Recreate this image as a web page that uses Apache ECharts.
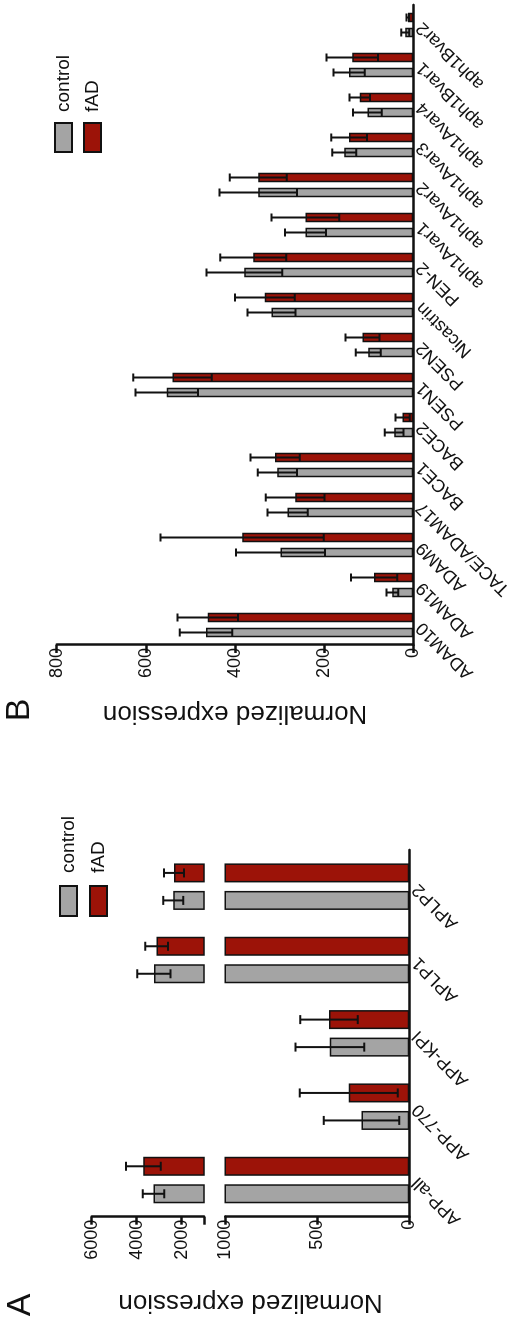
<!DOCTYPE html>
<html>
<head>
<meta charset="utf-8">
<script src="https://cdn.jsdelivr.net/npm/echarts@6/dist/echarts.min.js"></script>
<style>
  html, body { margin: 0; padding: 0; background: #fff; }
  #page { position: relative; width: 520px; height: 1326px; overflow: hidden; }
  /* The figure is laid out landscape and turned a quarter turn counter-clockwise */
  #chart {
    position: absolute; left: 0; top: 0;
    width: 1326px; height: 520px;
    transform-origin: 0 0;
    transform: translate(0, 1326px) rotate(-90deg);
  }
</style>
</head>
<body>
<div id="page"><div id="chart"></div></div>
<script>
// ---------- Panel A: APP family ----------
const categoriesA = ['APP-all', 'APP-770', 'APP-KPI', 'APLP1', 'APLP2'];
const controlA    = [3250, 260, 432, 3230, 2365];
const controlA_sd = [480, 205, 187, 740, 445];
const fadA        = [3700, 329, 436, 3110, 2335];
const fadA_sd     = [770, 266, 156, 510, 445];
const ticksALow   = [0, 500, 1000];
const ticksAHigh  = [2000, 4000, 6000];
const breakA      = 1000;
const topA        = 6000;

// ---------- Panel B: secretases ----------
const categoriesB = ['ADAM10', 'ADAM19', 'ADAM9', 'TACE/ADAM17', 'BACE1', 'BACE2', 'PSEN1', 'PSEN2',
                     'Nicastrin', 'PEN-2', 'aph1Avar1', 'aph1Avar2', 'aph1Avar3', 'aph1Avar4', 'aph1Bvar1', 'aph1Bvar2'];
const controlB    = [465, 47, 298, 282, 305, 43, 553, 101, 318, 379, 242, 348, 155, 103, 144, 18];
const controlB_sd = [59, 13, 100, 45, 44, 21, 70, 28, 54, 85, 46, 87, 27, 32, 35, 9];
const fadB        = [461, 88, 384, 265, 310, 24, 540, 114, 333, 359, 242, 348, 144, 120, 137, 12];
const fadB_sd     = [68, 52, 183, 66, 55, 16, 88, 38, 67, 74, 76, 64, 40, 23, 58, 3];
const ticksB      = [0, 200, 400, 600, 800];

// ---------- styling ----------
const FONT = 'Liberation Sans, Arial, Helvetica, sans-serif';
const GREY = '#a4a4a4';
const RED = '#9c1308';
const INK = '#111111';
const AXIS_W = 2.5;

const BAR_A = 19, GAP_A = 8.5;   // px
const BAR_B = 9.5, GAP_B = 5.5;  // px

function errorBars(offset, capHalf) {
  return function (params, api) {
    const c = api.value(0), v = api.value(1), sd = api.value(2);
    const hi = api.coord([c, v + sd]);
    const lo = api.coord([c, v - sd]);
    const x = hi[0] + offset;
    const style = { stroke: INK, lineWidth: 2 };
    return {
      type: 'group',
      children: [
        { type: 'line', shape: { x1: x, y1: hi[1], x2: x, y2: lo[1] }, style },
        { type: 'line', shape: { x1: x - capHalf, y1: hi[1], x2: x + capHalf, y2: hi[1] }, style },
        { type: 'line', shape: { x1: x - capHalf, y1: lo[1], x2: x + capHalf, y2: lo[1] }, style }
      ]
    };
  };
}

function errData(values, sds, keep) {
  const out = [];
  values.forEach((v, i) => { if (keep(v)) out.push([i, v, sds[i]]); });
  return out;
}

const plain = v => String(v);
const axisLineStyle = { lineStyle: { color: INK, width: AXIS_W } };
const tickStyle = { lineStyle: { color: INK, width: AXIS_W } };
const valueLabel = { color: INK, fontSize: 18, fontFamily: FONT, margin: 3, formatter: plain };
const catLabel = { color: INK, fontSize: 18, fontFamily: FONT, rotate: 45, margin: 6, interval: 0 };

function barSeries(name, data, color, xi, yi, bw, gap) {
  return {
    name, type: 'bar', xAxisIndex: xi, yAxisIndex: yi, data,
    barWidth: bw, barGap: (gap / bw * 100) + '%',
    itemStyle: { color, borderColor: INK, borderWidth: 1.5 },
    clip: true, silent: true, animation: false
  };
}

function errSeries(name, data, xi, yi, offset, cap) {
  return {
    name, type: 'custom', xAxisIndex: xi, yAxisIndex: yi, data,
    encode: { x: 0, y: 1 }, renderItem: errorBars(offset, cap),
    clip: true, z: 5, silent: true, animation: false
  };
}

const offA = (BAR_A + GAP_A) / 2;
const offB = (BAR_B + GAP_B) / 2;

const legendText = pad => ({ color: INK, fontSize: 19, fontFamily: FONT, padding: [0, 0, 0, pad] });

const option = {
  animation: false,
  backgroundColor: '#fff',
  grid: [
    { left: 109.3, top: 225.3, width: 366.7, height: 184, outerBoundsMode: 'none' },   // A, lower segment
    { left: 109.3, top: 91.7, width: 366.7, height: 112.3, outerBoundsMode: 'none' },  // A, upper segment
    { left: 681, top: 56.7, width: 640, height: 356.6, outerBoundsMode: 'none' }       // B
  ],
  xAxis: [
    { type: 'category', gridIndex: 0, data: categoriesA,
      axisLine: axisLineStyle, axisTick: Object.assign({ alignWithLabel: true, length: 8 }, tickStyle),
      axisLabel: catLabel },
    { type: 'category', gridIndex: 1, data: categoriesA, show: false },
    { type: 'category', gridIndex: 2, data: categoriesB,
      axisLine: axisLineStyle, axisTick: Object.assign({ alignWithLabel: true, length: 8 }, tickStyle),
      axisLabel: catLabel }
  ],
  yAxis: [
    { type: 'value', gridIndex: 0, min: ticksALow[0], max: breakA, interval: ticksALow[1] - ticksALow[0],
      axisLine: Object.assign({ show: true }, axisLineStyle),
      axisTick: Object.assign({ show: true, length: 8 }, tickStyle),
      axisLabel: valueLabel, splitLine: { show: false } },
    { type: 'value', gridIndex: 1, min: breakA, max: topA,
      axisLine: Object.assign({ show: true }, axisLineStyle),
      axisTick: Object.assign({ show: true, length: 8, customValues: [breakA].concat(ticksAHigh) }, tickStyle),
      axisLabel: Object.assign({ customValues: ticksAHigh }, valueLabel), splitLine: { show: false } },
    { type: 'value', gridIndex: 2, min: ticksB[0], max: ticksB[ticksB.length - 1], interval: ticksB[1] - ticksB[0],
      axisLine: Object.assign({ show: true }, axisLineStyle),
      axisTick: Object.assign({ show: true, length: 8 }, tickStyle),
      axisLabel: valueLabel, splitLine: { show: false },
      name: 'Normalized expression', nameLocation: 'middle', nameGap: 55,
      nameTextStyle: { color: INK, fontSize: 26, fontFamily: FONT } }
  ],
  legend: [
    { left: 409, top: 59, padding: 0, orient: 'vertical', itemWidth: 30, itemHeight: 17, itemGap: 11,
      icon: 'rect', data: ['control', 'fAD'], selectedMode: false, textStyle: legendText(8) },
    { left: 1173, top: 54, padding: 0, orient: 'vertical', itemWidth: 29, itemHeight: 17, itemGap: 10,
      icon: 'rect', data: ['control', 'fAD'], selectedMode: false, textStyle: legendText(6) }
  ],
  graphic: [
    { type: 'text', x: 21, y: 21, style: { text: 'A', font: '34px ' + FONT, fill: INK, align: 'center', verticalAlign: 'middle' } },
    { type: 'text', x: 616, y: 20, style: { text: 'B', font: '34px ' + FONT, fill: INK, align: 'center', verticalAlign: 'middle' } },
    { type: 'text', x: 24, y: 250.5, rotation: Math.PI / 2,
      style: { text: 'Normalized expression', font: '26px ' + FONT, fill: INK, align: 'center', verticalAlign: 'middle' } }
  ],
  series: [
    barSeries('control', controlA, GREY, 0, 0, BAR_A, GAP_A),
    barSeries('fAD', fadA, RED, 0, 0, BAR_A, GAP_A),
    barSeries('control', controlA, GREY, 1, 1, BAR_A, GAP_A),
    barSeries('fAD', fadA, RED, 1, 1, BAR_A, GAP_A),
    errSeries('control SD', errData(controlA, controlA_sd, v => v < breakA), 0, 0, -offA, 4.5),
    errSeries('fAD SD', errData(fadA, fadA_sd, v => v < breakA), 0, 0, offA, 4.5),
    errSeries('control SD', errData(controlA, controlA_sd, v => v >= breakA), 1, 1, -offA, 4.5),
    errSeries('fAD SD', errData(fadA, fadA_sd, v => v >= breakA), 1, 1, offA, 4.5),

    barSeries('control', controlB, GREY, 2, 2, BAR_B, GAP_B),
    barSeries('fAD', fadB, RED, 2, 2, BAR_B, GAP_B),
    errSeries('control SD', errData(controlB, controlB_sd, () => true), 2, 2, -offB, 4),
    errSeries('fAD SD', errData(fadB, fadB_sd, () => true), 2, 2, offB, 4)
  ]
};

const chart = echarts.init(document.getElementById('chart'), null, { renderer: 'canvas' });
chart.setOption(option);
</script>
</body>
</html>
